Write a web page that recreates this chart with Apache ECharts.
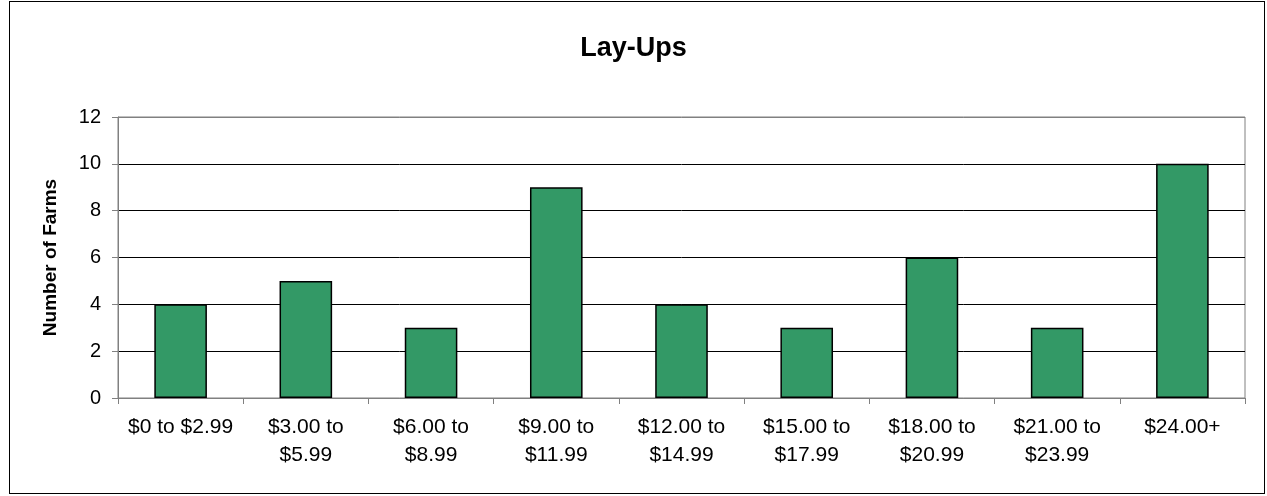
<!DOCTYPE html>
<html>
<head>
<meta charset="utf-8">
<script src="https://cdn.jsdelivr.net/npm/echarts@6/dist/echarts.min.js"></script>
<style>
html,body{margin:0;padding:0;background:#fff;}
#frame{position:absolute;left:9px;top:1px;width:1254px;height:491px;border:1px solid #000;}
#chart{position:absolute;left:0;top:0;width:1267px;height:496px;}
</style>
</head>
<body>
<div id="frame"></div>
<div id="chart"></div>
<script>
const categories = ["$0 to $2.99","$3.00 to\n$5.99","$6.00 to\n$8.99","$9.00 to\n$11.99","$12.00 to\n$14.99","$15.00 to\n$17.99","$18.00 to\n$20.99","$21.00 to\n$23.99","$24.00+"];
const farms = [4,5,3,9,4,3,6,3,10];
const titleText = "Lay-Ups";
const yName = "Number of Farms";

const font = "'Liberation Sans', Arial, sans-serif";
const chart = echarts.init(document.getElementById('chart'), null, {renderer:'canvas'});
chart.setOption({
  animation:false,
  backgroundColor:'transparent',
  title:{text:titleText,left:'center',top:30,textStyle:{fontFamily:font,fontSize:27,fontWeight:'bold',color:'#000'}},
  grid:{left:118,right:22,top:117,bottom:98,show:true,borderColor:'#808080',borderWidth:1,backgroundColor:'#fff'},
  xAxis:{type:'category',data:categories,
    axisLine:{lineStyle:{color:'#808080',width:1}},
    axisTick:{show:true,length:6,lineStyle:{color:'#808080'}},
    axisLabel:{fontFamily:font,fontSize:21,color:'#000',lineHeight:28,margin:15,interval:0}},
  yAxis:{type:'value',min:0,max:12,interval:2,name:yName,nameLocation:'middle',nameGap:58,
    nameTextStyle:{fontFamily:font,fontSize:19,fontWeight:'bold',color:'#000'},
    axisLine:{show:true,lineStyle:{color:'#808080',width:1}},
    axisTick:{show:true,length:6,lineStyle:{color:'#808080'}},
    axisLabel:{fontFamily:font,fontSize:20,color:'#000',margin:17},
    splitLine:{show:true,lineStyle:{color:['#808080','#000','#000','#000','#000','#000','#808080'],width:1}}},
  series:[{type:'bar',data:farms,barWidth:'42%',
    itemStyle:{color:'#339966',borderColor:'#000',borderWidth:1.5}}]
});
</script>
</body>
</html>
